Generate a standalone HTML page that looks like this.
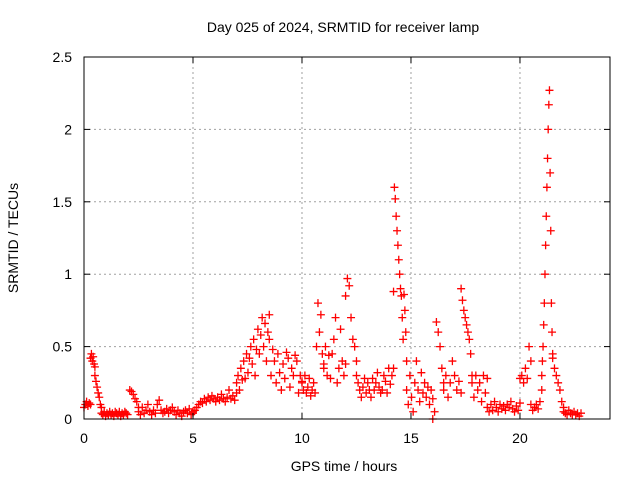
<!DOCTYPE html>
<html><head><meta charset="utf-8"><style>
body{margin:0;background:#fff;}
svg text{font-family:"Liberation Sans",sans-serif;font-size:14px;fill:#000;}
</style></head><body>
<svg id="chart" width="640" height="480" xmlns="http://www.w3.org/2000/svg">
<text x="343" y="32" text-anchor="middle">Day 025 of 2024, SRMTID for receiver lamp</text>
<g id="grid"></g>
<g id="marks"></g>
<rect x="84" y="57" width="526" height="362" fill="none" stroke="#000" stroke-width="1"/>
<g id="ticks"></g>
<text x="344" y="471" text-anchor="middle">GPS time / hours</text>
<text transform="translate(18,238) rotate(-90)" text-anchor="middle">SRMTID / TECUs</text>
</svg>
<script>
const xTicks=[0,5,10,15,20];
const yTicks=[0,0.5,1,1.5,2,2.5];
const yTickLabels=["0","0.5","1","1.5","2","2.5"];
const segStart=[0.0,0.3,0.5,0.8,2.1,2.5,5.0,7.0,8.5,10.0,11.0,12.0,12.5,14.2,14.8,16.0,16.5,17.3,17.8,18.5,20.0,20.5,21.0,21.5,22.0];
const segEnd=[0.3,0.5,0.8,2.0,2.5,5.0,7.0,8.5,10.0,11.0,12.0,12.5,14.2,14.8,16.0,16.5,17.3,17.8,18.5,20.0,20.5,21.0,21.5,22.0,22.8];
const segValues=[
[0.08,0.1,0.12,0.09,0.11,0.1],
[0.42,0.45,0.4,0.43,0.38,0.36],
[0.3,0.26,0.22,0.18,0.15,0.1,0.08],
[0.04,0.03,0.05,0.02,0.04,0.03,0.05,0.03,0.04,0.02,0.05,0.04,0.03,0.05,0.02,0.04,0.03,0.05,0.04,0.03],
[0.2,0.19,0.17,0.14,0.12,0.08],
[0.05,0.03,0.08,0.04,0.06,0.1,0.05,0.03,0.06,0.04,0.1,0.13,0.06,0.04,0.05,0.07,0.04,0.06,0.08,0.05,0.03,0.06,0.04,0.02,0.05,0.06,0.04,0.07,0.03,0.05],
[0.04,0.06,0.08,0.1,0.12,0.11,0.14,0.12,0.15,0.13,0.16,0.14,0.12,0.15,0.13,0.17,0.14,0.12,0.15,0.2,0.14,0.16,0.13,0.18],
[0.25,0.3,0.2,0.35,0.27,0.4,0.28,0.45,0.32,0.42,0.5,0.38,0.55,0.3,0.48,0.62,0.45,0.58,0.7,0.5,0.66,0.4,0.6,0.72],
[0.55,0.3,0.48,0.4,0.25,0.45,0.32,0.2,0.38,0.28,0.46,0.42,0.22,0.35,0.3,0.44,0.4,0.18,0.3,0.26],
[0.25,0.2,0.3,0.18,0.22,0.28,0.16,0.2,0.25,0.18,0.5,0.8,0.6,0.72,0.45,0.38],
[0.35,0.5,0.3,0.44,0.28,0.45,0.55,0.7,0.25,0.35,0.62,0.4,0.3,0.38],
[0.85,0.97,0.92,0.7,0.55,0.5,0.4],
[0.3,0.25,0.2,0.15,0.22,0.28,0.18,0.25,0.2,0.15,0.28,0.2,0.25,0.32,0.22,0.18,0.2,0.3,0.26,0.18,0.35,0.24,0.3,0.35],
[0.88,1.6,1.52,1.4,1.3,1.2,1.1,1.0,0.9,0.85,0.7,0.55,0.86,0.75,0.6,0.4],
[0.2,0.1,0.3,0.15,0.05,0.25,0.4,0.2,0.12,0.32,0.18,0.25,0.15,0.22,0.1,0.2,0.14],
[0.0,0.05,0.67,0.6,0.5,0.35,0.25],
[0.2,0.3,0.15,0.25,0.4,0.3,0.2,0.26,0.18],
[0.9,0.82,0.75,0.7,0.65,0.6,0.55,0.45,0.3],
[0.25,0.15,0.3,0.2,0.25,0.12,0.3,0.18,0.28],
[0.08,0.05,0.1,0.06,0.12,0.08,0.05,0.1,0.07,0.09,0.06,0.1,0.08,0.12,0.07,0.05,0.09,0.06,0.11],
[0.28,0.3,0.25,0.35,0.28,0.5,0.4],
[0.1,0.06,0.08,0.1,0.07,0.12,0.2],
[0.3,0.4,0.5,0.65,0.8,1.0,1.2,1.4,1.6,1.8,2.0,2.17,2.27,1.7,1.3,0.8,0.6,0.45],
[0.42,0.35,0.3,0.25,0.2,0.12,0.08],
[0.05,0.04,0.03,0.06,0.04,0.03,0.05,0.03,0.04,0.02,0.04]
];
const NS="http://www.w3.org/2000/svg";
const X0=84,X1=610,Y0=419,Y1=57,XMAX=24.13,YMAX=2.5;
function xs(v){return X0+(X1-X0)*v/XMAX;}
function ys(v){return Y0-(Y0-Y1)*v/YMAX;}
function mk(tag,attrs,parent){const e=document.createElementNS(NS,tag);for(const k in attrs)e.setAttribute(k,attrs[k]);parent.appendChild(e);return e;}
const grid=document.getElementById('grid'),ticks=document.getElementById('ticks'),marks=document.getElementById('marks');
xTicks.forEach(t=>{
  const x=xs(t);
  if(t>0){const g=mk('line',{x1:x,x2:x,y1:Y1,y2:Y0,stroke:'#a0a0a0','stroke-dasharray':'2,3'},grid);
  
  }
  const l=mk('line',{x1:x,x2:x,y1:Y0,y2:Y0-6,stroke:'#000'},ticks);
  
  
  const l2=mk('line',{x1:x,x2:x,y1:Y1,y2:Y1+6,stroke:'#000'},ticks);
  
  
  const tx=mk('text',{x:x,y:443,'text-anchor':'middle'},ticks);tx.textContent=String(t);
  
  
});
yTicks.forEach((t,i)=>{
  const y=ys(t);
  if(t>0&&t<YMAX){const g=mk('line',{x1:X0,x2:X1,y1:y,y2:y,stroke:'#a0a0a0','stroke-dasharray':'2,3'},grid);
  
  }
  const l=mk('line',{x1:X0,x2:X0+6,y1:y,y2:y,stroke:'#000'},ticks);
  
  
  const l2=mk('line',{x1:X1,x2:X1-6,y1:y,y2:y,stroke:'#000'},ticks);
  
  
  const tx=mk('text',{x:72,y:y+5,'text-anchor':'end'},ticks);tx.textContent=yTickLabels[i];
  
  
});
segValues.forEach((vals,s)=>{
  const n=vals.length;
  vals.forEach((v,i)=>{
    const t=segStart[s]+(segEnd[s]-segStart[s])*(n>1?i/(n-1):0);
    const x=xs(t),y=ys(v);
    const p=mk('path',{d:`M${x-4},${y}H${x+4}M${x},${y-4}V${y+4}`,stroke:'#ff0000','stroke-width':1.3,fill:'none'},marks);
    
    
  });
});
</script>
</body></html>
